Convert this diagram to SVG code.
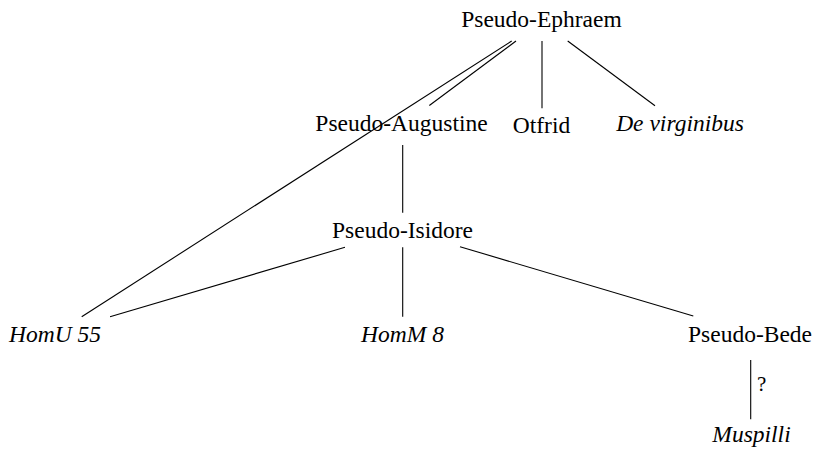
<svg xmlns="http://www.w3.org/2000/svg" width="817" height="449" viewBox="0 0 817 449">
  <style>
    .lbl { font-family: "Liberation Serif", "Times New Roman", serif; font-size: 23.5px; fill: #000; text-anchor: middle; }
    .it { font-style: italic; }
    .edge { stroke: #000; stroke-width: 1.1; fill: none; }
  </style>
  <rect width="817" height="449" fill="#fff"/>
  <g id="connectors">
    <line class="edge" x1="511.7" y1="41" x2="81.7" y2="316.7"/>
    <line class="edge" x1="516" y1="41" x2="429.3" y2="105.5"/>
    <line class="edge" x1="542" y1="41" x2="542" y2="108.3"/>
    <line class="edge" x1="567.7" y1="41" x2="655" y2="105.7"/>
    <line class="edge" x1="402.7" y1="145" x2="402.7" y2="212.7"/>
    <line class="edge" x1="345" y1="247.3" x2="110" y2="316.7"/>
    <line class="edge" x1="402.7" y1="247.3" x2="402.7" y2="316.7"/>
    <line class="edge" x1="460" y1="246.7" x2="693.3" y2="316"/>
    <line class="edge" x1="750.7" y1="360" x2="750.7" y2="419.3"/>
    <text class="lbl" x="757" y="391" style="text-anchor:start;font-size:21px">?</text>
  </g>
  <g id="pseudo-ephraem"><text class="lbl" x="541.5" y="27">Pseudo-Ephraem</text></g>
  <g id="pseudo-augustine"><text class="lbl" x="401.5" y="131">Pseudo-Augustine</text></g>
  <g id="otfrid"><text class="lbl" x="541.5" y="133">Otfrid</text></g>
  <g id="de-virginibus"><text class="lbl it" x="680" y="131">De virginibus</text></g>
  <g id="pseudo-isidore"><text class="lbl" x="402.5" y="237.5">Pseudo-Isidore</text></g>
  <g id="homu-55"><text class="lbl it" x="55" y="341.5">HomU 55</text></g>
  <g id="homm-8"><text class="lbl it" x="402.5" y="341.5">HomM 8</text></g>
  <g id="pseudo-bede"><text class="lbl" x="750" y="341.5">Pseudo-Bede</text></g>
  <g id="muspilli"><text class="lbl it" x="751.5" y="442">Muspilli</text></g>
</svg>
